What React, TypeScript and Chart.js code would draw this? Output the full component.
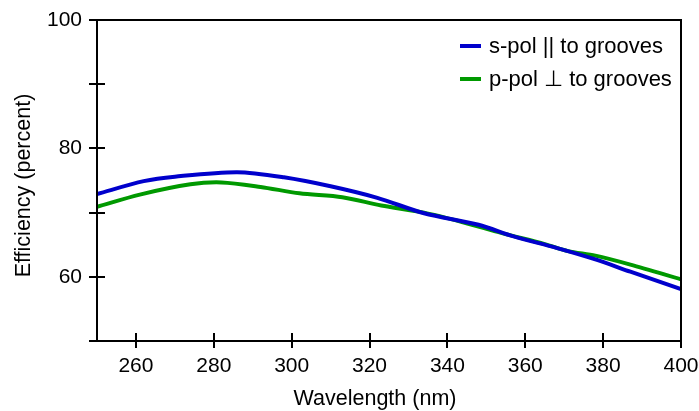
import React, { useEffect, useRef } from "react";
import { Chart, registerables } from "chart.js";

Chart.register(...registerables);

const sPolX = [250, 262, 270, 286, 298, 310, 322, 334, 348, 357, 368, 378, 387, 400];
const sPolY = [72.9, 74.9, 75.6, 76.3, 75.5, 74.1, 72.3, 69.9, 68.1, 66.3, 64.5, 62.7, 60.8, 58.1];
const pPolX = [250, 261, 274, 282, 292, 302, 313, 323, 334, 344, 354, 365, 371, 378, 387, 400];
const pPolY = [70.9, 72.8, 74.4, 74.7, 74.0, 73.0, 72.4, 71.1, 70.0, 68.5, 66.8, 65.1, 64.0, 63.3, 61.9, 59.6];

const seriesLabels = ["s-pol || to grooves", "p-pol \u22A5 to grooves"];
const xTickValues = [260, 280, 300, 320, 340, 360, 380, 400];
const yTickValues = [50, 60, 70, 80, 90, 100];
const yLabelValues = [60, 80, 100];
const xTitle = "Wavelength (nm)";
const yTitle = "Efficiency (percent)";

const FONT = "'Liberation Sans', Arial, Helvetica, sans-serif";
const BLUE = "rgb(0,0,204)";
const GREEN = "rgb(0,153,0)";

const framePlugin = {
  id: "frameTicks",
  afterDraw(chart: any) {
    const { ctx, chartArea } = chart;
    const xs = chart.scales.x;
    const ys = chart.scales.y;
    const { left, right, top, bottom } = chartArea;
    ctx.save();
    ctx.strokeStyle = "#000";
    ctx.lineWidth = 2;
    ctx.lineCap = "butt";
    ctx.strokeRect(left, top, right - left, bottom - top);
    ctx.beginPath();
    for (const v of yTickValues) {
      const y = Math.round(ys.getPixelForValue(v));
      ctx.moveTo(left - 8, y);
      ctx.lineTo(left + 8, y);
    }
    for (const v of xTickValues) {
      const x = Math.round(xs.getPixelForValue(v));
      ctx.moveTo(x, bottom - 8);
      ctx.lineTo(x, bottom + 7);
    }
    ctx.stroke();

    ctx.fillStyle = "#000";
    ctx.font = `21.5px ${FONT}`;
    ctx.textAlign = "center";
    ctx.textBaseline = "alphabetic";
    ctx.fillText(xTitle, 375, 405);
    ctx.save();
    ctx.translate(30, 185.5);
    ctx.rotate(-Math.PI / 2);
    ctx.fillText(yTitle, 0, 0);
    ctx.restore();

    // legend
    ctx.textAlign = "left";
    ctx.font = `22px ${FONT}`;
    chart.data.datasets.forEach((ds: any, i: number) => {
      const cy = 46 + i * 33;
      ctx.strokeStyle = ds.borderColor;
      ctx.lineWidth = 4;
      ctx.beginPath();
      ctx.moveTo(460, cy);
      ctx.lineTo(481, cy);
      ctx.stroke();
      ctx.fillStyle = "#000";
      ctx.fillText(ds.label, 489, cy + 7);
    });
    ctx.restore();
  },
};

export default function App() {
  const ref = useRef<HTMLCanvasElement>(null);
  useEffect(() => {
    if (!ref.current) return;
    Chart.defaults.font.family = FONT;
    const chart = new Chart(ref.current, {
      type: "line",
      data: {
        datasets: [
          {
            label: seriesLabels[0],
            data: sPolX.map((x, i) => ({ x, y: sPolY[i] })),
            borderColor: BLUE,
            backgroundColor: BLUE,
            borderWidth: 4,
            pointRadius: 0,
            tension: 0.3,
          },
          {
            label: seriesLabels[1],
            data: pPolX.map((x, i) => ({ x, y: pPolY[i] })),
            borderColor: GREEN,
            backgroundColor: GREEN,
            borderWidth: 4,
            pointRadius: 0,
            tension: 0.3,
          },
        ],
      },
      options: {
        responsive: false,
        animation: false,
        layout: { padding: { top: 20, right: 18, left: 0, bottom: 0 } },
        plugins: { legend: { display: false }, tooltip: { enabled: false } },
        scales: {
          x: {
            type: "linear",
            min: 250,
            max: 400,
            grid: { display: false, drawTicks: false },
            border: { display: false },
            afterBuildTicks: (s: any) => {
              s.ticks = xTickValues.map((v) => ({ value: v }));
            },
            afterFit: (s: any) => {
              s.height = 70;
              s.paddingLeft = 0;
              s.paddingRight = 0;
              s.paddingTop = 0;
              s.paddingBottom = 0;
            },
            ticks: {
              autoSkip: false,
              maxRotation: 0,
              padding: 13,
              color: "#000",
              font: { size: 21, family: FONT },
            },
          },
          y: {
            type: "linear",
            min: 50,
            max: 100,
            grid: { display: false, drawTicks: false },
            border: { display: false },
            afterBuildTicks: (s: any) => {
              s.ticks = yTickValues.map((v) => ({ value: v }));
            },
            afterFit: (s: any) => {
              s.width = 97;
              s.paddingLeft = 0;
              s.paddingRight = 0;
              s.paddingTop = 0;
              s.paddingBottom = 0;
            },
            ticks: {
              autoSkip: false,
              padding: 15,
              color: "#000",
              font: { size: 21, family: FONT },
              callback: (v: any) => (yLabelValues.includes(Number(v)) ? String(v) : ""),
            },
          },
        },
      },
      plugins: [framePlugin],
    });
    return () => chart.destroy();
  }, []);
  return (
    <div style={{ position: "fixed", left: 0, top: 0, width: 699, height: 411, background: "#fff" }}>
      <canvas ref={ref} width={699} height={411} style={{ width: 699, height: 411 }} />
    </div>
  );
}
